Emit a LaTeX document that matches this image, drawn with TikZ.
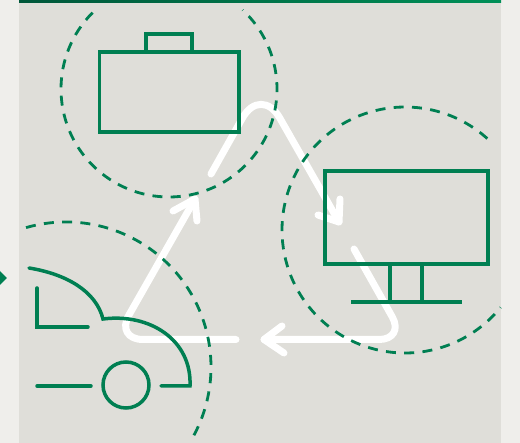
\documentclass[tikz,border=0pt]{standalone}
\begin{document}
\begin{tikzpicture}[x=1pt,y=1pt,yscale=-1,
  icon/.style={draw=iconGreen,line width=3.5pt,miter limit=10},
  roundicon/.style={icon,line cap=round},
  ring/.style={draw=iconGreen,line width=2.8pt,dash pattern=on 10pt off 8.3pt},
  cycle/.style={draw=white,line width=7pt,line cap=round,line join=round}]
\definecolor{iconGreen}{HTML}{007F52}
\definecolor{pageBg}{HTML}{EFEEEB}
\definecolor{panelBg}{HTML}{DFDED9}
\definecolor{barDark}{HTML}{00573A}
\definecolor{barLight}{HTML}{009058}
\useasboundingbox (0,0) rectangle (520,443);
\fill[pageBg] (0,0) rectangle (520,443);
\fill[panelBg] (19,0) rectangle (501,443);
\shade[left color=barDark,right color=barLight] (19,0) rectangle (501,3);
\fill[iconGreen] (0,271) -- (6.8,278) -- (0,285) -- cycle;
% white cycle arrows
\draw[cycle,rounded corners=38pt] (211,174) -- (261,85) -- (339,222);
\draw[cycle] (318,215) -- (339,222) -- (340,199);
\draw[cycle,rounded corners=26pt] (354,249) -- (405,339.5) -- (264,339.5);
\draw[cycle] (282,326) -- (264,339.5) -- (284,353);
\draw[cycle,rounded corners=28pt] (236,339.5) -- (115,339.5) -- (195,199);
\draw[cycle] (173,211) -- (195,199) -- (197,221);
% dashed rings
\draw[ring] (169,89) ++(-135:108) arc[start angle=-135,end angle=-407,radius=108pt];
\draw[ring] (405,230) ++(-48:123) arc[start angle=-48,end angle=-321,radius=123pt];
\draw[ring] (66,367) ++(-106:145) arc[start angle=-106,end angle=30,radius=145pt];
% briefcase
\draw[icon] (99.5,52) rectangle (239,132);
\draw[icon] (146,52) -- (146,34) -- (192,34) -- (192,52);
% monitor
\draw[icon] (325,171) rectangle (488,264);
\draw[icon] (390,264) -- (390,302);
\draw[icon] (422,264) -- (422,302);
\draw[icon] (351,302) -- (462,302);
% car
\draw[roundicon] (29,268) .. controls (66,274) and (96,291) .. (103,319)
  .. controls (150,313) and (192,340) .. (190,386) -- (161,386);
\draw[roundicon] (37,288) -- (37,327) -- (88,327);
\draw[roundicon] (37,386) -- (91,386);
\draw[icon] (126,385) circle[radius=23pt];
\end{tikzpicture}
\end{document}
